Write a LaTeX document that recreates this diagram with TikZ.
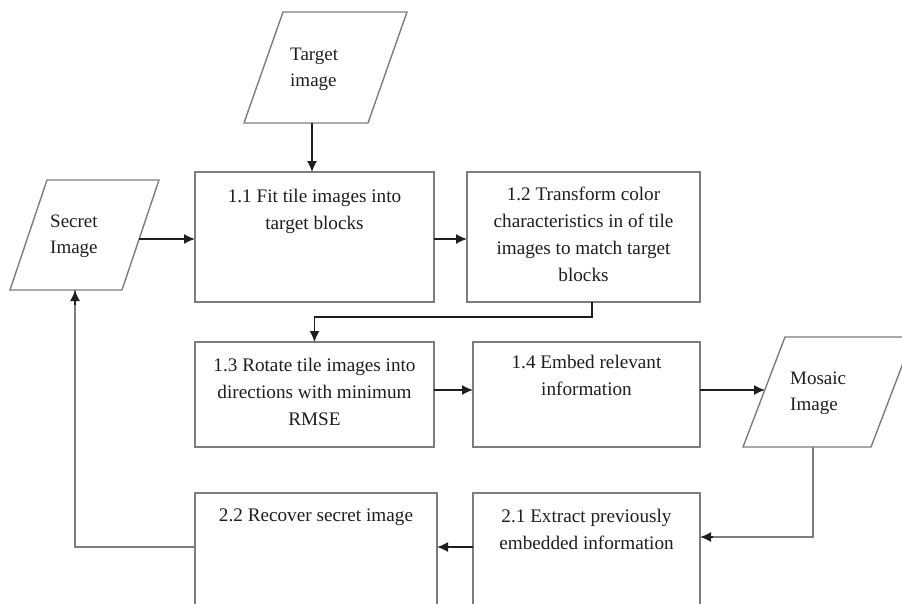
\documentclass[tikz,border=0pt]{standalone}
\usepackage{fontspec}
\setmainfont{Liberation Serif}
\usetikzlibrary{arrows.meta,calc}
\definecolor{bordergray}{RGB}{125,125,125}
\definecolor{inkdark}{RGB}{30,30,30}
\begin{document}
\begin{tikzpicture}[x=1pt,y=-1pt,
  box/.style={draw=bordergray, line width=1.4pt, inner sep=0pt, outer sep=0pt},
  txt/.style={font=\fontsize{19.2}{27}\selectfont, align=center, anchor=north, inner sep=0pt, text=inkdark},
  ptxt/.style={font=\fontsize{19}{26}\selectfont, align=left, anchor=west, inner sep=0pt, text=inkdark},
  para/.style={draw=bordergray, line width=1.4pt},
  conn/.style={draw=bordergray, line width=1.5pt},
  arr/.style={draw=inkdark, line width=1.6pt, -{Latex[length=11pt,width=10pt]}},
]
\useasboundingbox (0,0) rectangle (902,603);
\clip (0,0) rectangle (902,603);

% parallelograms
\draw[para] (283,12) -- (407,12) -- (368,123) -- (244,123) -- cycle;
\coordinate (tgtb) at (312,123);
\node[ptxt] (tgt) at (290,69) {Target\\image};

\draw[para] (47,180) -- (159,180) -- (122,290) -- (10,290) -- cycle;
\coordinate (secr) at (139,239);
\coordinate (secb) at (75,290);
\node[ptxt] (sec) at (50,236) {Secret\\Image};

\draw[para] (785,337) -- (913,337) -- (871,447) -- (743,447) -- cycle;
\coordinate (mosl) at (765,390);
\coordinate (mosb) at (813,447);
\node[ptxt] (mos) at (790,393) {Mosaic\\Image};

% boxes
\node[box, minimum width=239pt, minimum height=130pt] (b11) at (314.5,237) {};
\node[box, minimum width=233pt, minimum height=130pt] (b12) at (583.5,237) {};
\node[box, minimum width=239pt, minimum height=105pt] (b13) at (314.5,394.5) {};
\node[box, minimum width=227pt, minimum height=105pt] (b14) at (586.5,394.5) {};
\node[box, minimum width=227pt, minimum height=157pt] (b21) at (586.5,571.5) {};
\node[box, minimum width=242pt, minimum height=157pt] (b22) at (316,571.5) {};

\node[txt] (t11) at ($(b11.north)+(0,17)$) {1.1 Fit tile images into\\target blocks};
\node[txt] (t12) at ($(b12.north)+(0,15)$) {1.2 Transform color\\characteristics in of tile\\images to match target\\blocks};
\node[txt] (t13) at ($(b13.north)+(0,16)$) {1.3 Rotate tile images into\\directions with minimum\\RMSE};
\node[txt] (t14) at ($(b14.north)+(0,13)$) {1.4 Embed relevant\\information};
\node[txt] (t21) at ($(b21.north)+(0,16)$) {2.1 Extract previously\\embedded information};
\node[txt] (t22) at ($(b22.north)+(0,16)$) {2.2 Recover secret image};

% connectors
\draw[arr] (tgtb) -- (tgtb |- b11.north);
\draw[arr] (secr) -- (secr -| b11.west);
\draw[arr] ([yshift=-2pt]b11.east) -- ([yshift=-2pt]b12.west);
\draw[arr] ([xshift=8.5pt]b12.south) -- ++(0,15) -| (b13.north);
\draw[arr] ([yshift=4.5pt]b13.east) -- ([yshift=4.5pt]b14.west);
\draw[arr] ([yshift=4.5pt]b14.east) -- (mosl);
\draw[conn] (mosb) |- ([yshift=34.5pt,xshift=13pt]b21.east);
\draw[arr] ([yshift=34.5pt,xshift=13pt]b21.east) -- ([yshift=34.5pt]b21.east);
\draw[arr] ([yshift=24.5pt]b21.west) -- ([yshift=24.5pt]b22.east);
\draw[conn] ([yshift=24.5pt]b22.west) -| (secb);
\draw[arr] ($(secb)+(0,15)$) -- (secb);
\end{tikzpicture}
\end{document}
